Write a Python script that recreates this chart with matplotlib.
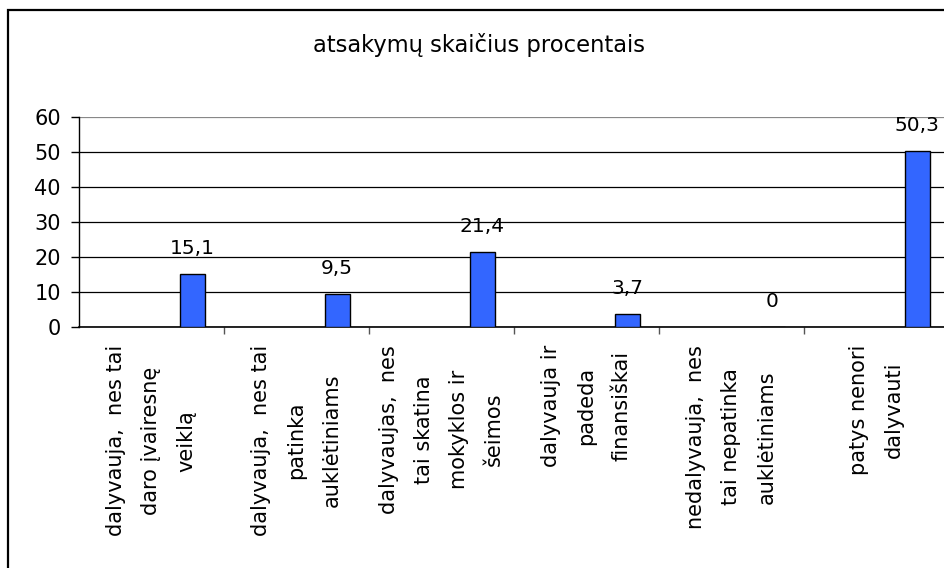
import matplotlib
matplotlib.use("Agg")
import matplotlib.pyplot as plt
from matplotlib.patches import Rectangle

# Chart data
categories = [
    "dalyvauja,  nes tai\ndaro įvairesnę\nveiklą",
    "dalyvauja,  nes tai\npatinka\nauklėtiniams",
    "dalyvaujas,  nes\ntai skatina\nmokyklos ir\nšeimos",
    "dalyvauja ir\npadeda\nfinansiškai",
    "nedalyvauja,  nes\ntai nepatinka\nauklėtiniams",
    "patys nenori\ndalyvauti",
]
values = [15.1, 9.5, 21.4, 3.7, 0.0, 50.3]
value_labels = ["15,1", "9,5", "21,4", "3,7", "0", "50,3"]
title = "atsakymų skaičius procentais"

plt.rcParams["font.family"] = ["DejaVu Sans"]

W, H = 945, 568
fig = plt.figure(figsize=(W / 100, H / 100), dpi=100)

# outer chart frame (right and bottom edges fall outside the picture)
fig.patches.append(Rectangle((8 / W, -0.1), 2.0, 1 - 10 / H + 0.1,
                             transform=fig.transFigure, fill=False,
                             edgecolor="black", lw=1.6))

# plot area
x0, x1 = 79, 949
y0, y1 = 327, 117
ax = fig.add_axes([x0 / W, (H - y0) / H, (x1 - x0) / W, (y0 - y1) / H])

n = len(categories)
pos = list(range(n))
bar_offset = 0.28
bar_width = 0.172
ax.bar([p + bar_offset for p in pos], values, width=bar_width,
       color="#3366ff", edgecolor="black", linewidth=1.0, zorder=3)

for p, v, lab in zip(pos, values, value_labels):
    ax.annotate(lab, (p + bar_offset, v), xytext=(0, 14.5),
                textcoords="offset points", ha="center", va="baseline",
                fontsize=14.5, annotation_clip=False, zorder=4)

ax.set_xlim(-0.5, n - 0.5)
ax.set_ylim(0, 60)
ax.set_yticks(range(0, 61, 10))
ax.yaxis.grid(True, color="black", lw=0.9)
ax.get_ygridlines()[-1].set_color("#888888")
ax.set_axisbelow(True)

# category boundaries as major ticks, labels at centres as minor ticks
ax.set_xticks([p + 0.5 for p in pos])
ax.set_xticklabels([])
ax.set_xticks(pos, minor=True)
ax.set_xticklabels(categories, minor=True, rotation=90, fontsize=15,
                   va="top", ha="center", multialignment="center",
                   linespacing=1.95)
ax.tick_params(axis="x", which="major", direction="out", length=5,
               width=1, color="#555555")
ax.tick_params(axis="x", which="minor", length=0, pad=13)
ax.tick_params(axis="y", direction="out", length=6, width=1,
               labelsize=15, pad=7)

for side in ["top", "right"]:
    ax.spines[side].set_visible(False)
ax.spines["left"].set_color("black")
ax.spines["bottom"].set_color("black")
ax.spines["left"].set_linewidth(1.0)
ax.spines["bottom"].set_linewidth(1.2)

fig.text(479.5 / W, 1 - 45 / H, title, ha="center", va="center", fontsize=16.3)

fig.savefig("out.png", dpi=100)
